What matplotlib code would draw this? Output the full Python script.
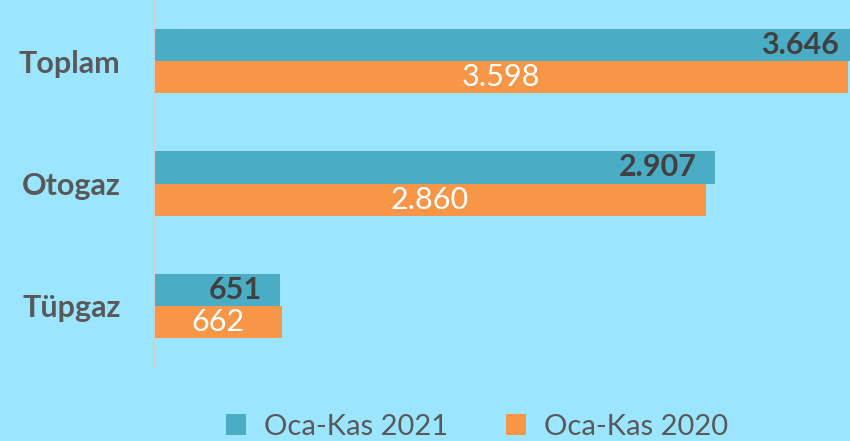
import numpy as np
import matplotlib.pyplot as plt

categories = ['Toplam', 'Otogaz', 'Tüpgaz']
values_2021 = [3646, 2907, 651]
values_2020 = [3598, 2860, 662]
labels_2021 = ['3.646', '2.907', '651']
labels_2020 = ['3.598', '2.860', '662']
series_names = ['Oca-Kas 2021', 'Oca-Kas 2020']

bg = '#9BE5FF'
c2021 = '#4BACC6'
c2020 = '#F79646'
grey = '#595959'

plt.rcParams['font.family'] = ['Lato', 'DejaVu Sans']

fig = plt.figure(figsize=(8.5, 4.41), dpi=100, facecolor=bg)
ax = fig.add_axes([154 / 850, 1 - 367 / 441, 1 - 154 / 850, 367 / 441])
ax.set_facecolor(bg)

y = np.arange(len(categories))
h = 0.262
b1 = ax.barh(y - h / 2, values_2021, height=h, color=c2021, label=series_names[0])
b2 = ax.barh(y + h / 2, values_2020, height=h, color=c2020, label=series_names[1])

for bar, lab in zip(b1, labels_2021):
    ax.annotate(lab, (bar.get_width(), bar.get_y() + bar.get_height() / 2),
                xytext=(-13, 0), textcoords='offset points', ha='right', va='center',
                fontsize=22, fontweight='bold', color='#404040', annotation_clip=False)
for bar, lab in zip(b2, labels_2020):
    ax.text(bar.get_width() / 2, bar.get_y() + bar.get_height() / 2, lab,
            ha='center', va='center', fontsize=22, color='white')

ax.set_xlim(0, 3608)
ax.set_ylim(2.5, -0.5)
ax.set_yticks(y)
ax.set_yticklabels(categories, fontsize=22, fontweight='bold', color=grey)
ax.tick_params(axis='y', length=0, pad=24)
ax.set_xticks([])
for s in ['top', 'right', 'bottom']:
    ax.spines[s].set_visible(False)
ax.spines['left'].set_color('#D0D0D0')
ax.spines['left'].set_linewidth(1.5)

fig.legend(loc='center', bbox_to_anchor=(0.561, 0.032), ncol=2, frameon=False,
           fontsize=21, labelcolor=grey, handlelength=0.7, handleheight=0.7,
           columnspacing=2.0, handletextpad=0.6)

fig.savefig('out.png', dpi=100, facecolor=bg)
